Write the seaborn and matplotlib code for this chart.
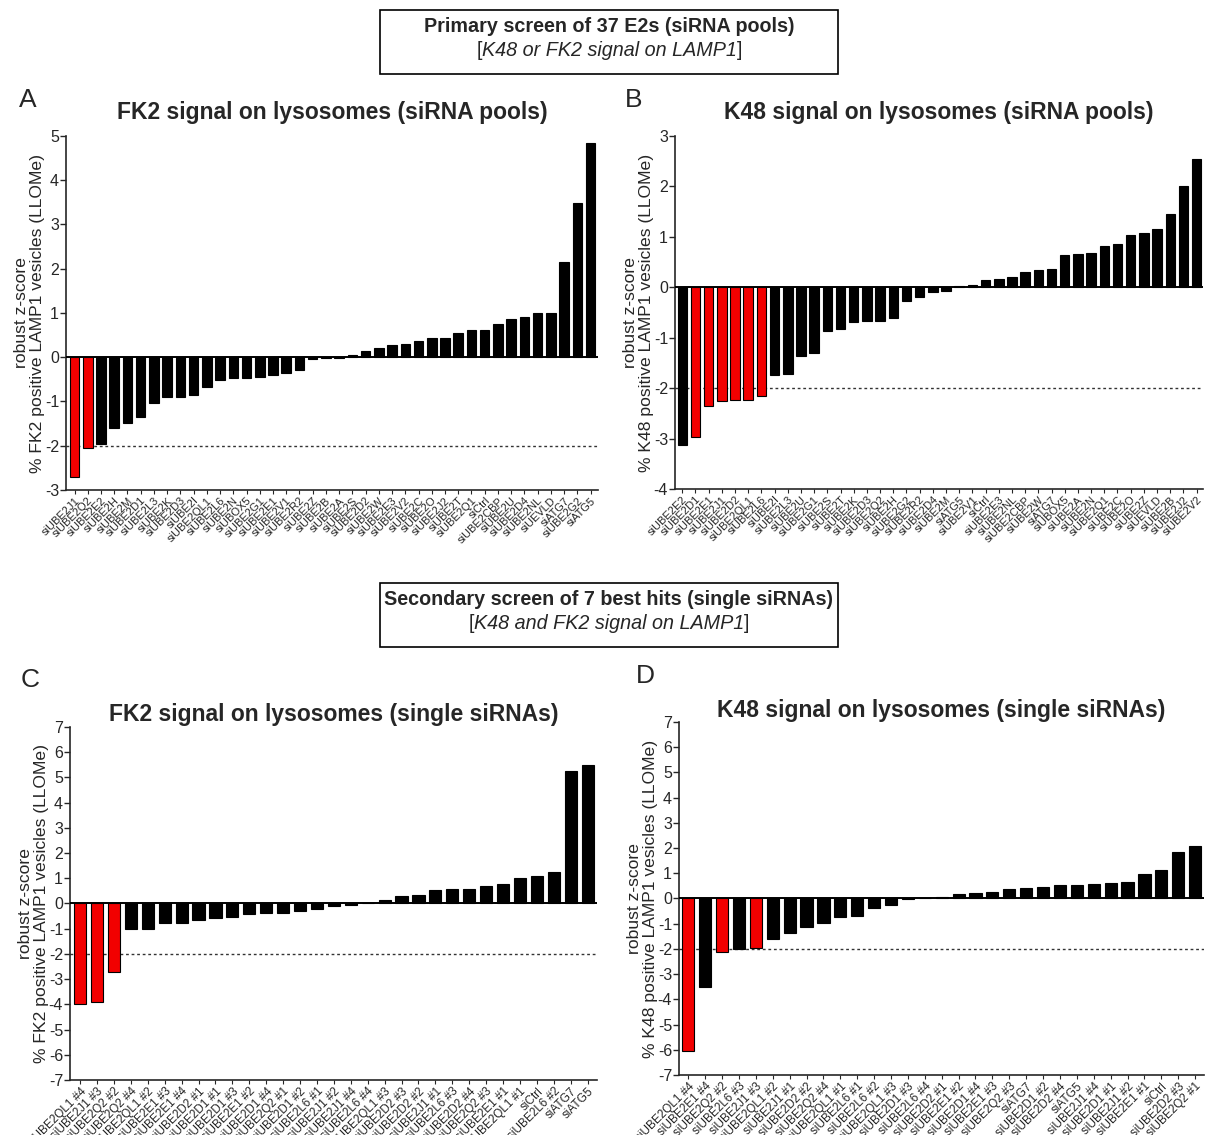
import matplotlib
matplotlib.use("Agg")
import matplotlib.pyplot as plt
import seaborn as sns
from matplotlib.patches import Rectangle

# Panel A: FK2, siRNA pools
fk2_pool_labels = [
    "siUBE2J1", "siUBE2Q2", "siUBE2E2", "siUBE2H", "siUBE2M", "siUBE2D1", "siUBE2L3",
    "siUBE2K", "siUBE2D3", "siUBE2I", "siUBE2QL1", "siUBE2L6", "siUBE2N", "siUBOX5",
    "siUBE2G1", "siUBE2E1", "siUBE2V1", "siUBE2R2", "siUBE2Z", "siUBE2B", "siUBE2A",
    "siUBE2S", "siUBE2D2", "siUBE2W", "siUBE2E3", "siUBE2V2", "siUBE2C", "siUBE2O",
    "siUBE2J2", "siUBE2T", "siUBE2Q1", "siCtrl", "siUBE2CBP", "siUBE2U", "siUBE2D4",
    "siUBE2NL", "siUEVLD", "siATG7", "siUBE2G2", "siATG5",
]
fk2_pool_values = [
    -2.70, -2.06, -1.97, -1.61, -1.49, -1.36, -1.04, -0.89, -0.89, -0.86,
    -0.68, -0.52, -0.48, -0.47, -0.45, -0.41, -0.35, -0.28, -0.04, -0.02,
    -0.01, 0.04, 0.14, 0.21, 0.27, 0.31, 0.36, 0.43, 0.44, 0.55,
    0.61, 0.61, 0.76, 0.86, 0.91, 0.99, 1.01, 2.16, 3.49, 4.83,
]
fk2_pool_red = ["siUBE2J1", "siUBE2Q2"]

# Panel B: K48, siRNA pools
k48_pool_labels = [
    "siUBE2E2", "siUBE2D1", "siUBE2E1", "siUBE2J1", "siUBE2D2", "siUBE2QL1", "siUBE2L6",
    "siUBE2I", "siUBE2L3", "siUBE2U", "siUBE2G1", "siUBE2S", "siUBE2T", "siUBE2K",
    "siUBE2D3", "siUBE2Q2", "siUBE2H", "siUBE2G2", "siUBE2R2", "siUBE2D4", "siUBE2M",
    "siATG5", "siUBE2V1", "siCtrl", "siUBE2E3", "siUBE2NL", "siUBE2CBP", "siUBE2W",
    "siATG7", "siUBOX5", "siUBE2A", "siUBE2N", "siUBE2Q1", "siUBE2C", "siUBE2O",
    "siUBE2Z", "siUEVLD", "siUBE2B", "siUBE2J2", "siUBE2V2",
]
k48_pool_values = [
    -3.13, -2.97, -2.36, -2.26, -2.23, -2.23, -2.15, -1.74, -1.72, -1.36,
    -1.30, -0.86, -0.82, -0.68, -0.67, -0.66, -0.60, -0.28, -0.20, -0.10,
    -0.07, 0.03, 0.05, 0.15, 0.16, 0.21, 0.31, 0.34, 0.36, 0.64,
    0.66, 0.68, 0.81, 0.85, 1.04, 1.07, 1.15, 1.45, 2.00, 2.54,
]
k48_pool_red = ["siUBE2D1", "siUBE2E1", "siUBE2J1", "siUBE2D2", "siUBE2QL1", "siUBE2L6"]

# Panel C: FK2, single siRNAs
fk2_single_labels = [
    "siUBE2QL1 #4", "siUBE2J1 #3", "siUBE2Q2 #2", "siUBE2Q2 #4", "siUBE2QL1 #2",
    "siUBE2E1 #3", "siUBE2E1 #4", "siUBE2D2 #1", "siUBE2D1 #1", "siUBE2D1 #3",
    "siUBE2E1 #2", "siUBE2D1 #4", "siUBE2Q2 #1", "siUBE2D1 #2", "siUBE2L6 #1",
    "siUBE2J1 #2", "siUBE2J1 #4", "siUBE2L6 #4", "siUBE2QL1 #3", "siUBE2D2 #3",
    "siUBE2D2 #2", "siUBE2J1 #1", "siUBE2L6 #3", "siUBE2D2 #4", "siUBE2Q2 #3",
    "siUBE2E1 #1", "siUBE2QL1 #1", "siCtrl", "siUBE2L6 #2", "siATG7", "siATG5",
]
fk2_single_values = [
    -4.00, -3.90, -2.70, -1.02, -1.02, -0.78, -0.76, -0.64, -0.59, -0.55,
    -0.40, -0.37, -0.36, -0.28, -0.22, -0.09, -0.07, 0.01, 0.12, 0.28,
    0.32, 0.55, 0.57, 0.57, 0.70, 0.79, 1.00, 1.08, 1.26, 5.25, 5.50,
]
fk2_single_red = ["siUBE2QL1 #4", "siUBE2J1 #3", "siUBE2Q2 #2"]

# Panel D: K48, single siRNAs
k48_single_labels = [
    "siUBE2QL1 #4", "siUBE2E1 #4", "siUBE2Q2 #2", "siUBE2L6 #3", "siUBE2J1 #3",
    "siUBE2QL1 #2", "siUBE2J1 #1", "siUBE2D2 #2", "siUBE2Q2 #4", "siUBE2QL1 #1",
    "siUBE2L6 #1", "siUBE2L6 #2", "siUBE2QL1 #3", "siUBE2D1 #3", "siUBE2L6 #4",
    "siUBE2D2 #1", "siUBE2E1 #2", "siUBE2D1 #4", "siUBE2E1 #3", "siUBE2Q2 #3",
    "siATG7", "siUBE2D1 #2", "siUBE2D2 #4", "siATG5", "siUBE2J1 #4",
    "siUBE2D1 #1", "siUBE2J1 #2", "siUBE2E1 #1", "siCtrl", "siUBE2D2 #3", "siUBE2Q2 #1",
]
k48_single_values = [
    -6.04, -3.53, -2.11, -2.01, -1.97, -1.62, -1.36, -1.15, -0.98, -0.75,
    -0.71, -0.38, -0.27, -0.03, 0.01, 0.07, 0.19, 0.23, 0.27, 0.36,
    0.43, 0.46, 0.54, 0.55, 0.59, 0.63, 0.67, 0.99, 1.13, 1.85, 2.07,
]
k48_single_red = ["siUBE2QL1 #4", "siUBE2Q2 #2", "siUBE2J1 #3"]

sns.set_style("ticks")
plt.rcParams["font.family"] = ["Liberation Sans", "DejaVu Sans"]
plt.rcParams["axes.unicode_minus"] = False

fig = plt.figure(figsize=(12.06, 11.35), dpi=100)


def panel(rect, labels, values, red, ylim, xlim, ylab, title, tpad, xfs):
    ax = fig.add_axes(rect)
    colors = {l: ("#f20000" if l in red else "black") for l in labels}
    sns.barplot(x=labels, y=values, hue=labels, palette=colors, legend=False,
                saturation=1, width=0.72, edgecolor="black", linewidth=0.8, ax=ax)
    ax.axhline(0, color="black", lw=1.4, zorder=3)
    ax.axhline(-2, color="#333333", lw=1, ls=(0, (2, 2)), zorder=0.5)
    ax.set_ylim(*ylim)
    ax.set_xlim(*xlim)
    ax.set_yticks(range(ylim[0], ylim[1] + 1))
    ax.set_xticks(range(len(labels)))
    ax.set_xticklabels(labels, rotation=45, ha="right", rotation_mode="anchor", fontsize=xfs)
    ax.tick_params(axis="y", length=4, width=1, labelsize=11.5, pad=1)
    ax.tick_params(axis="x", length=3, width=0.8, pad=1)
    ax.set_xlabel("")
    ax.set_ylabel(ylab, fontsize=12.6, labelpad=0, linespacing=1.05)
    ax.set_title(title, fontsize=16.5, fontweight="bold", pad=tpad)
    sns.despine(ax=ax)
    for s in ["left", "bottom"]:
        ax.spines[s].set_linewidth(1.2)
    return ax


panel([0.0547, 0.5683, 0.441, 0.3119], fk2_pool_labels, fk2_pool_values, fk2_pool_red,
      (-3, 5), (-0.65, 39.55),
      "robust z-score\n% FK2 positive LAMP1 vesicles (LLOMe)",
      "FK2 signal on lysosomes (siRNA pools)", 12.5, 8)
panel([0.5597, 0.5692, 0.438, 0.3110], k48_pool_labels, k48_pool_values, k48_pool_red,
      (-4, 3), (-0.55, 39.5),
      "robust z-score\n% K48 positive LAMP1 vesicles (LLOMe)",
      "K48 signal on lysosomes (siRNA pools)", 12.5, 8)
panel([0.0580, 0.0485, 0.437, 0.3110], fk2_single_labels, fk2_single_values, fk2_single_red,
      (-7, 7), (-0.6, 30.55),
      "robust z-score\n% FK2 positive LAMP1 vesicles (LLOMe)",
      "FK2 signal on lysosomes (single siRNAs)", 4, 8.5)
panel([0.5630, 0.0529, 0.435, 0.3110], k48_single_labels, k48_single_values, k48_single_red,
      (-7, 7), (-0.55, 30.5),
      "robust z-score\n% K48 positive LAMP1 vesicles (LLOMe)",
      "K48 signal on lysosomes (single siRNAs)", 1.5, 8.5)

# boxed headers
W, H = 1206, 1135
renderer = fig.canvas.get_renderer()
for y0, y1, l1, l2 in [
    (10, 74, "Primary screen of 37 E2s (siRNA pools)", "K48 or FK2 signal on LAMP1"),
    (583, 647, "Secondary screen of 7 best hits (single siRNAs)", "K48 and FK2 signal on LAMP1"),
]:
    fig.patches.append(Rectangle((380 / W, 1 - y1 / H), (838 - 380) / W, (y1 - y0) / H,
                                 transform=fig.transFigure, fill=False,
                                 edgecolor="black", lw=1.2))
    fig.text(609 / W, 1 - (y0 + 22) / H, l1, ha="center", va="baseline",
             fontsize=14.2, fontweight="bold")
    t = fig.text(609 / W, 1 - (y0 + 46) / H, l2, ha="center", va="baseline",
                 fontsize=14.2, style="italic")
    bb = t.get_window_extent(renderer).transformed(fig.transFigure.inverted())
    fig.text(bb.x0, 1 - (y0 + 46) / H, "[", ha="right", va="baseline", fontsize=14.2)
    fig.text(bb.x1, 1 - (y0 + 46) / H, "]", ha="left", va="baseline", fontsize=14.2)

for x, y, s in [(28, 100, "A"), (634, 100, "B"), (30, 680, "C"), (645, 676, "D")]:
    fig.text(x / W, 1 - y / H, s, ha="center", va="center", fontsize=19)

fig.savefig("out.png", dpi=100)
